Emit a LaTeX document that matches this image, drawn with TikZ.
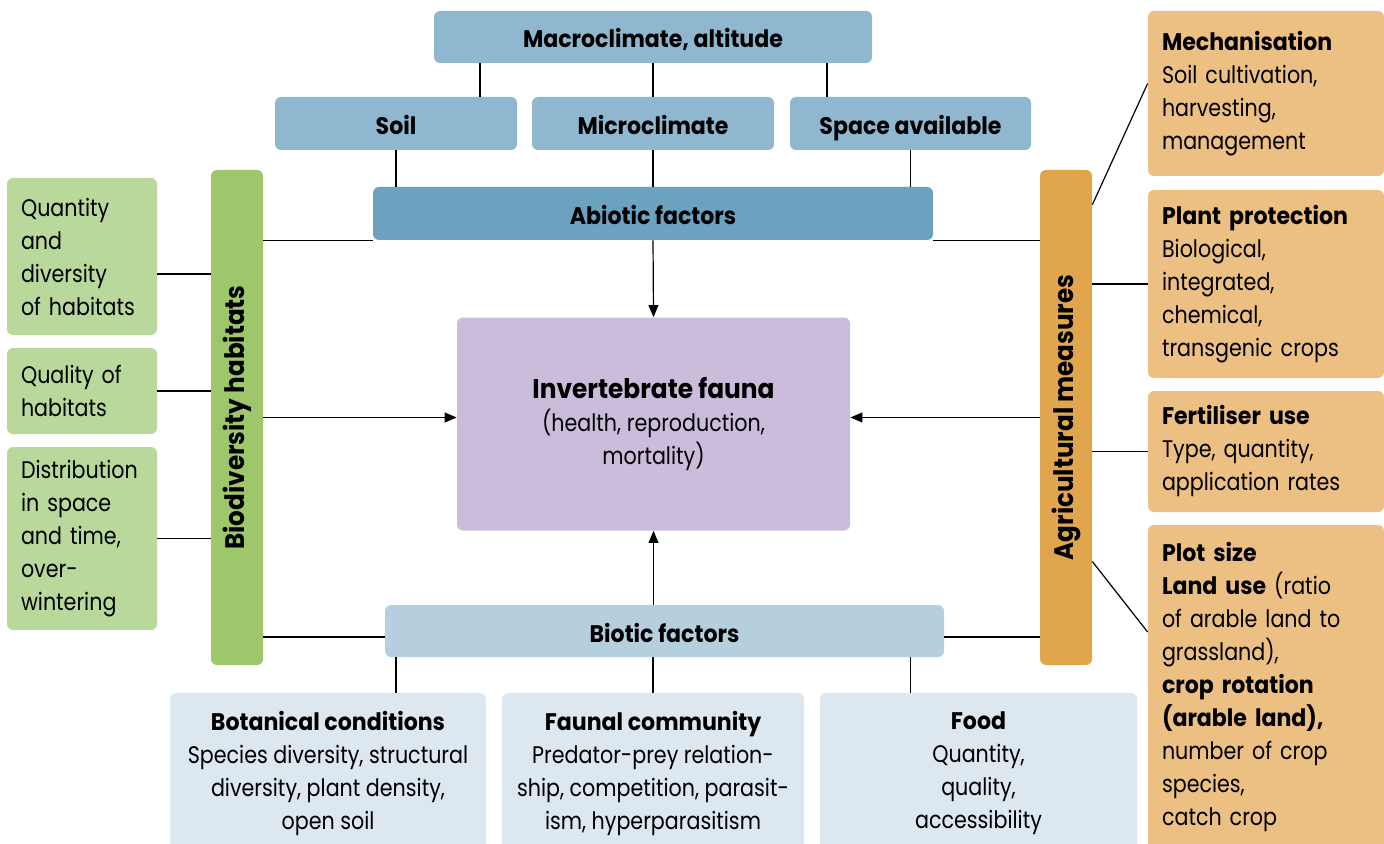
\documentclass[tikz,border=0pt]{standalone}
\usepackage{fontspec}
\setmainfont{Poppins}[FakeStretch=0.86, BoldFeatures={FakeStretch=0.92}]
\usetikzlibrary{arrows.meta}

\definecolor{topblue}{HTML}{8FB7CF}
\definecolor{abioblue}{HTML}{6AA2C0}
\definecolor{bioblue}{HTML}{B5CFDF}
\definecolor{paleblue}{HTML}{DCE7EF}
\definecolor{faunalilac}{HTML}{CBBCDC}
\definecolor{habgreen}{HTML}{9DC76A}
\definecolor{palegreen}{HTML}{B9D89B}
\definecolor{agrorange}{HTML}{E1A54E}
\definecolor{paleorange}{HTML}{ECC083}

\tikzset{
  box/.style={rounded corners=3pt, inner sep=0pt, font=\fontsize{12}{16.5}\selectfont},
  headbox/.style={box, text height=12.5pt, text depth=1.5pt, font=\fontsize{12}{16.5}\selectfont\bfseries},
  leftbox/.style={box, fill=palegreen, minimum width=75pt, text width=61pt, align=left},
  rightbox/.style={box, fill=paleorange, minimum width=118pt, text width=104pt, align=left},
  lowbox/.style={box, fill=paleblue, minimum height=80pt, align=center},
  barlabel/.style={rotate=90, font=\fontsize{13.4}{15}\selectfont\bfseries},
  link/.style={draw=black, line width=0.6pt},
  arr/.style={link, -{Triangle[length=6pt,width=5pt]}}
}

\begin{document}
\begin{tikzpicture}[x=0.5pt,y=-0.5pt]
\useasboundingbox (0,0) rectangle (1384,844);

% abiotic side
\node[headbox, fill=topblue, minimum width=219pt, minimum height=26pt] (macro) at (653,37) {Macroclimate, altitude};
\node[headbox, fill=topblue, minimum width=121pt, minimum height=26.5pt] (soil) at (396,123.5) {Soil};
\node[headbox, fill=topblue, minimum width=121pt, minimum height=26.5pt] (micro) at (653,123.5) {Microclimate};
\node[headbox, fill=topblue, minimum width=120.5pt, minimum height=26.5pt] (space) at (910.5,123.5) {Space available};
\node[headbox, fill=abioblue, minimum width=280pt, minimum height=26.5pt] (abio) at (653,213.5) {Abiotic factors};

% centre
\node[box, fill=faunalilac, minimum width=196.5pt, minimum height=106.5pt, align=center] (fauna) at (653.5,424)
  {{\fontsize{13.5}{16.5}\selectfont\bfseries Invertebrate fauna}\\(health, reproduction,\\mortality)};

% biotic side
\node[headbox, fill=bioblue, minimum width=279.5pt, minimum height=26pt] (biotic) at (664.5,631) {Biotic factors};
\node[lowbox, minimum width=158pt] (botan) at (328,773)
  {\textbf{Botanical conditions}\\Species diversity, structural\\diversity, plant density,\\open soil};
\node[lowbox, minimum width=151pt] (faunal) at (653,773)
  {\textbf{Faunal community}\\Predator-prey relation-\\ship, competition, parasit-\\ism, hyperparasitism};
\node[lowbox, minimum width=158.5pt] (food) at (978.5,773)
  {\textbf{Food}\\Quantity,\\quality,\\accessibility};

% bars
\node[box, fill=habgreen, minimum width=26pt, minimum height=247.5pt,
  label={[barlabel]center:Biodiversity habitats}] (hab) at (237,417.5) {};
\node[box, fill=agrorange, minimum width=26pt, minimum height=247.5pt,
  label={[barlabel]center:Agricultural measures}] (agr) at (1066,417.5) {};

% habitats
\node[leftbox, minimum height=78.5pt] (quant) at (82,256.5) {Quantity\\and\\diversity\\of habitats};
\node[leftbox, minimum height=43pt] (qual) at (82,391) {Quality of\\habitats};
\node[leftbox, minimum height=91.5pt] (distr) at (82,538.5) {Distribution\\in space\\and time,\\over-\\wintering};

% measures
\node[rightbox, minimum height=82.5pt] (mech) at (1266,93.5) {\textbf{Mechanisation}\\Soil cultivation,\\harvesting,\\management};
\node[rightbox, minimum height=94pt] (plant) at (1266,284) {\textbf{Plant protection}\\Biological,\\integrated,\\chemical,\\transgenic crops};
\node[rightbox, minimum height=60.5pt] (fert) at (1266,451.5) {\textbf{Fertiliser use}\\Type, quantity,\\application rates};
\node[rightbox, minimum height=162.5pt] (plot) at (1266,687.5) {\textbf{Plot size}\\\textbf{Land use} (ratio\\of arable land to\\grassland),\\\textbf{crop rotation}\\\textbf{(arable land),}\\number of crop\\species,\\catch crop};

% connectors top
\coordinate (m1) at ([xshift=42pt]soil.north);
\coordinate (m3) at ([xshift=-41.75pt]space.north);
\draw[link] (m1) -- (m1 |- macro.south);
\draw[link] (micro.north) -- (macro.south);
\draw[link] (m3) -- (m3 |- macro.south);
\draw[link] (soil.south) -- (soil.south |- abio.north);
\draw[link] (micro.south) -- (abio.north);
\draw[link] (space.south) -- (space.south |- abio.north);
\draw[link] (abio.south west) -- (hab.east |- abio.south west);
\draw[link] (abio.south east) -- (agr.west |- abio.south east);
\draw[arr] (abio.south) -- (fauna.north);

% connectors bottom
\coordinate (b0) at ([yshift=-3pt]biotic.west);
\coordinate (b9) at ([yshift=-3pt]biotic.east);
\draw[link] (b0) -- (b0 -| hab.east);
\draw[link] (b9) -- (b9 -| agr.west);
\draw[arr] (biotic.north -| fauna.south) -- (fauna.south);
\draw[link] (soil.south |- biotic.south) -- (soil.south |- botan.north);
\draw[link] (faunal.north |- biotic.south) -- (faunal.north);
\draw[link] (space.south |- biotic.south) -- (space.south |- food.north);

% sides
\draw[arr] (hab.east) -- (hab.east -| fauna.west);
\draw[arr] (agr.west) -- (agr.west -| fauna.east);
\coordinate (q1) at ([yshift=-8.75pt]quant.east);
\draw[link] (q1) -- (q1 -| hab.west);
\draw[link] (qual.east) -- (qual.east -| hab.west);
\draw[link] (distr.east) -- (distr.east -| hab.west);
\draw[link] ([yshift=-17.5pt]agr.north east) -- ([yshift=5pt]mech.west);
\draw[link] (plant.west) -- (plant.west -| agr.east);
\draw[link] (fert.west) -- (fert.west -| agr.east);
\draw[link] ([yshift=-196pt]agr.north east) -- ([yshift=27.75pt]plot.west);
\end{tikzpicture}
\end{document}
